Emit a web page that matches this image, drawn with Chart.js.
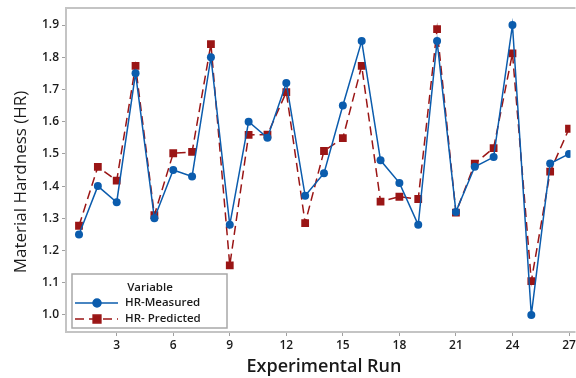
<!DOCTYPE html>
<html>
<head>
<meta charset="utf-8">
<script src="https://cdn.jsdelivr.net/npm/chart.js@4.4.1/dist/chart.umd.min.js"></script>
<style>
  html, body { margin: 0; padding: 0; background: #fff; overflow: hidden; }
  #wrap { width: 576px; height: 378px; }
</style>
</head>
<body>
<div id="wrap"><canvas id="chart" width="576" height="378"></canvas></div>
<script>
// run numbers and values
const runs = [1, 2, 3, 4, 5, 6, 7, 8, 9, 10, 11, 12, 13, 14, 15, 16, 17, 18, 19, 20, 21, 22, 23, 24, 25, 26, 27];
const hrMeasured = [1.25, 1.40, 1.35, 1.75, 1.30, 1.45, 1.43, 1.80, 1.28, 1.60, 1.55, 1.72, 1.37, 1.44,
                    1.65, 1.85, 1.48, 1.41, 1.28, 1.85, 1.32, 1.46, 1.49, 1.90, 1.00, 1.47, 1.50];
const hrPredicted = [1.277, 1.46, 1.417, 1.773, 1.31, 1.502, 1.506, 1.841, 1.154, 1.559, 1.56, 1.692, 1.285, 1.509,
                     1.549, 1.773, 1.352, 1.367, 1.36, 1.887, 1.318, 1.47, 1.518, 1.812, 1.105, 1.445, 1.578];
const xTicks = [3, 6, 9, 12, 15, 18, 21, 24, 27];
const yTicks = [1.0, 1.1, 1.2, 1.3, 1.4, 1.5, 1.6, 1.7, 1.8, 1.9];

const BLUE = '#0b5cad';
const RED = '#9a1515';
const FRAME = '#c4c4c4';
const FONT = '"Open Sans", "DejaVu Sans", sans-serif';

function toPoints(vals) {
    return runs.map((r, i) => ({ x: r, y: vals[i] }));
}

// grey box round the plot area (right side runs off the picture), axis titles and the legend box
const decor = {
    id: 'decor',
    beforeDatasetsDraw(chart) {
        const { ctx, chartArea: a } = chart;
        ctx.save();
        ctx.strokeStyle = FRAME;
        ctx.lineWidth = 2;
        ctx.beginPath();
        ctx.moveTo(a.right + 5, a.top);
        ctx.lineTo(a.left, a.top);
        ctx.lineTo(a.left, a.bottom);
        ctx.lineTo(a.right + 5, a.bottom);
        ctx.stroke();
        ctx.restore();
    },
    afterDraw(chart) {
        const { ctx } = chart;
        ctx.save();
        ctx.fillStyle = '#1a1a1a';
        ctx.textAlign = 'center';
        ctx.textBaseline = 'middle';

        // y title
        ctx.save();
        ctx.translate(21, 182);
        ctx.rotate(-Math.PI / 2);
        ctx.font = '17px ' + FONT;
        ctx.fillText('Material Hardness (HR)', 0, 0);
        ctx.restore();

        // x title
        ctx.font = '600 18px ' + FONT;
        ctx.fillText('Experimental Run', 324, 367);

        // legend
        const bx = 72, by = 274, bw = 155, bh = 54;
        ctx.fillStyle = '#fff';
        ctx.fillRect(bx, by, bw, bh);
        ctx.strokeStyle = '#a8a8a8';
        ctx.lineWidth = 1.5;
        ctx.strokeRect(bx, by, bw, bh);

        ctx.fillStyle = '#1a1a1a';
        ctx.font = '600 11.5px ' + FONT;
        ctx.fillText('Variable', 150, 288);

        chart.data.datasets.forEach((ds, i) => {
            const y = 303 + i * 16;
            ctx.save();
            ctx.strokeStyle = ds.borderColor;
            ctx.lineWidth = ds.borderWidth;
            ctx.setLineDash(ds.borderDash || []);
            ctx.beginPath();
            ctx.moveTo(75, y);
            ctx.lineTo(118, y);
            ctx.stroke();
            ctx.setLineDash([]);
            ctx.fillStyle = ds.pointBackgroundColor;
            ctx.strokeStyle = ds.pointBorderColor;
            Chart.helpers.drawPoint(ctx, { pointStyle: ds.pointStyle, radius: ds.pointRadius, borderWidth: 1 }, 97, y);
            ctx.restore();
            ctx.textAlign = 'left';
            ctx.fillStyle = '#1a1a1a';
            ctx.fillText(ds.label, 125, y);
        });
        ctx.restore();
    }
};

const chart = new Chart(document.getElementById('chart'), {
    type: 'scatter',
    data: {
        datasets: [
            {
                label: 'HR-Measured',
                data: toPoints(hrMeasured),
                showLine: true,
                borderColor: BLUE,
                borderWidth: 1.5,
                pointStyle: 'circle',
                pointRadius: 4,
                pointBackgroundColor: BLUE,
                pointBorderColor: BLUE,
                pointBorderWidth: 0
            },
            {
                label: 'HR- Predicted',
                data: toPoints(hrPredicted),
                showLine: true,
                borderColor: RED,
                borderWidth: 1.5,
                borderDash: [9, 5],
                pointStyle: 'rect',
                pointRadius: 5.5,
                pointBackgroundColor: RED,
                pointBorderColor: RED,
                pointBorderWidth: 0
            }
        ]
    },
    options: {
        responsive: false,
        animation: false,
        layout: { padding: { top: 8, right: -12, left: 0, bottom: 0 } },
        plugins: {
            legend: { display: false },
            tooltip: { enabled: false }
        },
        scales: {
            x: {
                type: 'linear',
                min: 0.31,
                max: 27.7,
                afterBuildTicks: s => { s.ticks = xTicks.map(v => ({ value: v })); },
                afterFit: s => { s.height = 46; s.paddingLeft = 0; s.paddingRight = 0; },
                border: { display: false },
                grid: { drawOnChartArea: false, drawTicks: true, tickLength: 4, color: '#a0a0a0' },
                ticks: {
                    padding: 2,
                    maxRotation: 0,
                    color: '#1a1a1a',
                    font: { family: FONT, size: 12, weight: '600' }
                }
            },
            y: {
                min: 0.9472,
                max: 1.9528,
                afterBuildTicks: s => { s.ticks = yTicks.map(v => ({ value: v })); },
                afterFit: s => { s.width = 66; s.paddingTop = 0; s.paddingBottom = 0; },
                border: { display: false },
                grid: { drawOnChartArea: false, drawTicks: true, tickLength: 4, color: '#a0a0a0' },
                ticks: {
                    padding: 3,
                    color: '#1a1a1a',
                    callback: v => Number(v).toFixed(1),
                    font: { family: FONT, size: 12, weight: '600' }
                }
            }
        }
    },
    plugins: [decor]
});

// calibrate the run axis so run 1 sits at x=79 and run 27 at x=569, as in the original
const runPx = (569 - 79) / 26;
const area = chart.chartArea;
chart.options.scales.x.min = 1 - (79 - area.left) / runPx;
chart.options.scales.x.max = 1 + (area.right - 79) / runPx;
chart.update();
</script>
</body>
</html>
